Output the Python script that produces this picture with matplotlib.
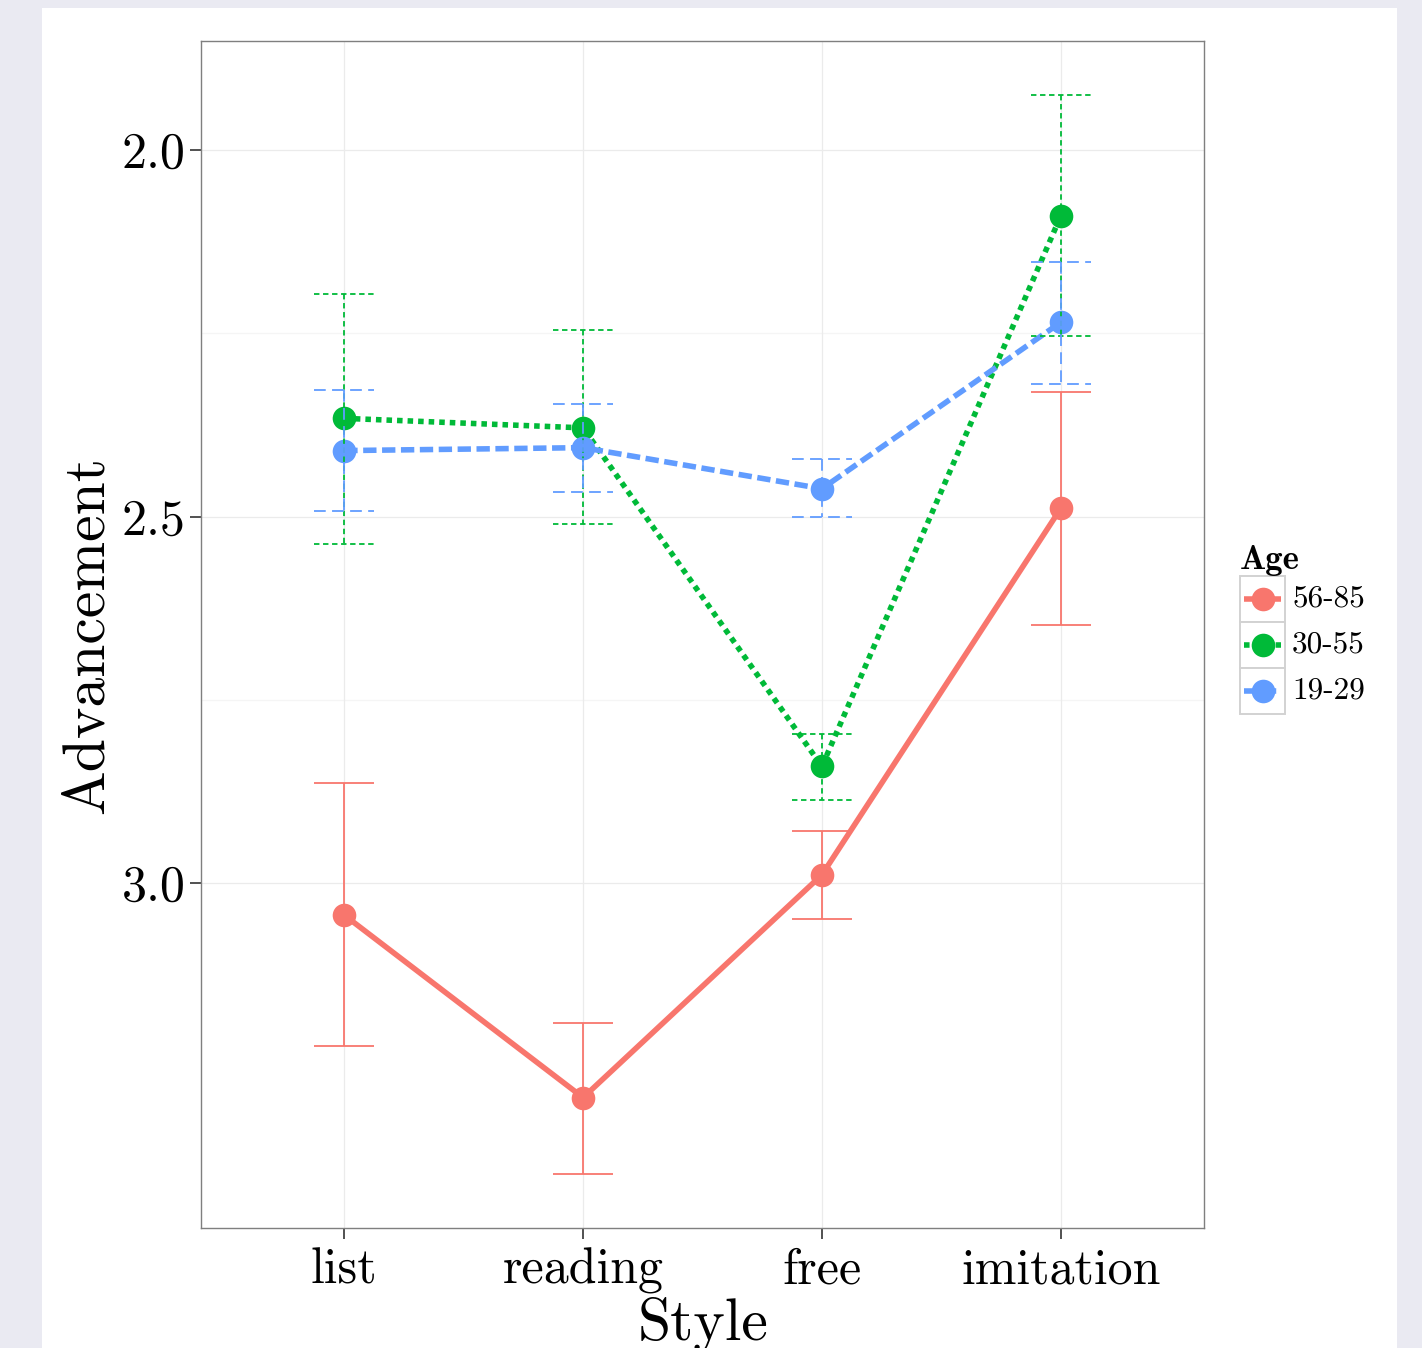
import matplotlib
matplotlib.use("Agg")
import matplotlib.pyplot as plt
from matplotlib.patches import Rectangle
import numpy as np

plt.rcParams['font.family'] = ['cmr10', 'DejaVu Serif']
plt.rcParams['axes.unicode_minus'] = False

# data (y axis is reversed: 2.0 at top)
styles = ["list", "reading", "free", "imitation"]
ages = ["56-85", "30-55", "19-29"]

mean_old = [3.044, 3.293, 2.989, 2.489]
low_old = [2.864, 3.191, 2.929, 2.330]
high_old = [3.222, 3.397, 3.049, 2.648]

mean_mid = [2.366, 2.379, 2.841, 2.090]
low_mid = [2.196, 2.246, 2.797, 1.925]
high_mid = [2.537, 2.510, 2.887, 2.254]

mean_young = [2.410, 2.406, 2.462, 2.235]
low_young = [2.327, 2.346, 2.421, 2.153]
high_young = [2.492, 2.466, 2.501, 2.319]

y_ticks = [2.0, 2.5, 3.0]
y_minor = [2.25, 2.75]

colors = ["#F8766D", "#00BA38", "#619CFF"]
line_styles = ["-", (0, (1, 0.9)), (0, (2.4, 1.0))]
err_styles = ["-", (0, (3, 2)), (0, (6.5, 3.5))]

means = [mean_old, mean_mid, mean_young]
lows = [low_old, low_mid, low_young]
highs = [high_old, high_mid, high_young]

W, H = 1422, 1348


def fx(x):
    return x / W


def fy(y):
    return 1 - y / H


fig = plt.figure(figsize=(W / 100, H / 100), dpi=100, facecolor="#EAEAF2")
fig.patches.append(Rectangle((fx(42), 0), fx(1397) - fx(42), fy(8), transform=fig.transFigure,
                             facecolor="white", edgecolor="none", zorder=-10))

ax = fig.add_axes([fx(201), fy(1228), fx(1204) - fx(201), (1228 - 41) / H])
ax.set_facecolor("white")

x = np.arange(len(styles))

# grid
for v in y_ticks:
    ax.axhline(v, color="#EBEBEB", lw=0.9, zorder=0)
for v in y_minor:
    ax.axhline(v, color="#F5F5F5", lw=0.9, zorder=0)
for xv in x:
    ax.axvline(xv, color="#EBEBEB", lw=0.9, zorder=0)

# lines and points
for i in range(len(ages)):
    ax.plot(x, means[i], color=colors[i], lw=4.0, linestyle=line_styles[i],
            dash_capstyle="butt", solid_capstyle="butt", zorder=2)
    ax.plot(x, means[i], "o", color=colors[i], markersize=17, markeredgewidth=0, zorder=3)

# error bars
cap = 0.125
for i in range(len(ages)):
    ax.vlines(x, lows[i], highs[i], colors=colors[i], lw=1.3, linestyles=[err_styles[i]], zorder=4)
    ax.hlines(lows[i], x - cap, x + cap, colors=colors[i], lw=1.3, linestyles=[err_styles[i]], zorder=4)
    ax.hlines(highs[i], x - cap, x + cap, colors=colors[i], lw=1.3, linestyles=[err_styles[i]], zorder=4)

ax.set_xlim(-0.6, 3.6)
ax.set_ylim(3.471, 1.851)
ax.set_xticks(x)
ax.set_xticklabels(styles)
ax.set_yticks(y_ticks)
ax.set_yticklabels(["2.0", "2.5", "3.0"])
ax.tick_params(length=8, width=1.2, color="#333333", labelsize=36, labelcolor="black")
ax.tick_params(axis="y", pad=3)
ax.tick_params(axis="x", pad=6)
for s in ax.spines.values():
    s.set_color("#7F7F7F")
    s.set_linewidth(1.0)

fig.text(fx(88), fy(635), "Advancement", rotation=90, ha="center", va="center", fontsize=43)
fig.text(fx(703), fy(1339), "Style", ha="center", va="baseline", fontsize=43)

# legend
lax = fig.add_axes([fx(1240), fy(714), 45 / W, (714 - 576) / H])
lax.set_xlim(0, 1)
lax.set_ylim(3, 0)
lax.axis("off")
for i in range(len(ages)):
    lax.add_patch(Rectangle((0, i), 1, 1, facecolor="white", edgecolor="#D2D2D2", lw=1.4, clip_on=False))
    lax.plot([0.08, 0.92], [i + 0.5, i + 0.5], color=colors[i], lw=4.0, linestyle=line_styles[i],
             dash_capstyle="butt", solid_capstyle="butt", clip_on=False)
    lax.plot([0.5], [i + 0.5], "o", color=colors[i], markersize=17, markeredgewidth=0, clip_on=False)
    lax.text(1.16, i + 0.5, ages[i], va="center", ha="left", fontsize=22.5)
lax.text(0.0, -0.15, "Age", va="baseline", ha="left", fontsize=25, family=["cmb10", "DejaVu Serif"])

fig.savefig("out.png", dpi=100, facecolor=fig.get_facecolor())
